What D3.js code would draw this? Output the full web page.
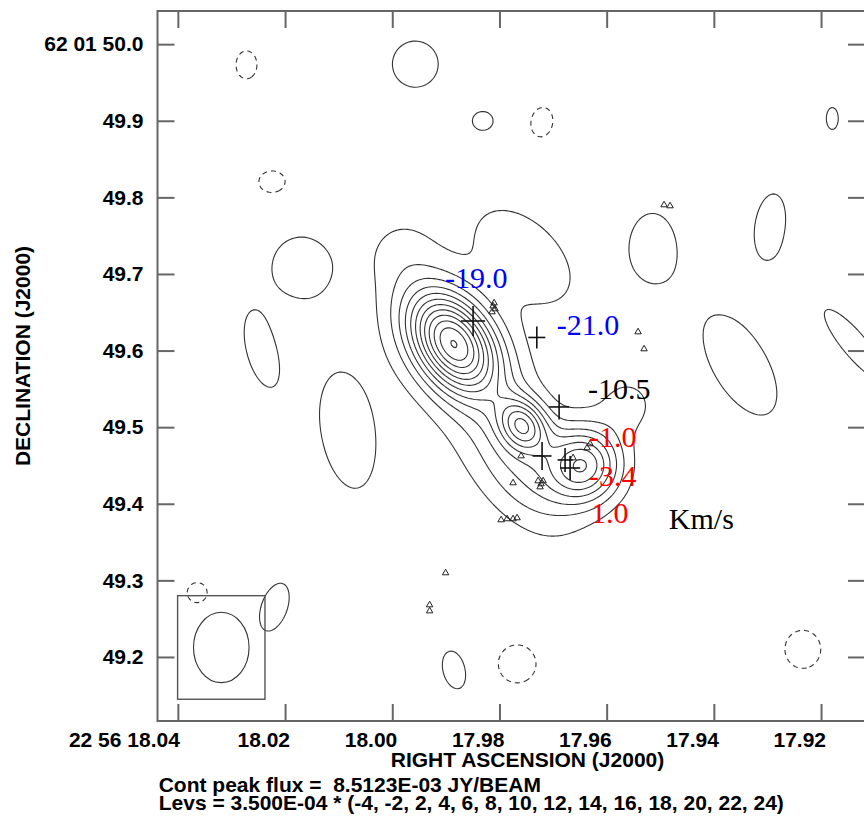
<!DOCTYPE html>
<html><head><meta charset="utf-8">
<script src="https://cdn.jsdelivr.net/npm/d3@7"></script>
<style>body{margin:0;background:#fff}svg{display:block}</style>
</head><body>
<svg id="chart" width="864" height="819"></svg>
<script>
// ---------------- axes ----------------
const raTicks = [18.04, 18.02, 18.00, 17.98, 17.96, 17.94, 17.92];
const raTickLabels = ["22 56 18.04", "18.02", "18.00", "17.98", "17.96", "17.94", "17.92"];
const decTicks = [50.0, 49.9, 49.8, 49.7, 49.6, 49.5, 49.4, 49.3, 49.2];
const decTickLabels = ["62 01 50.0", "49.9", "49.8", "49.7", "49.6", "49.5", "49.4", "49.3", "49.2"];
const raDomain = [18.0438, 17.9118];   // seconds of RA (22h56m)
const decDomain = [50.0433, 49.1164];  // arcsec of Dec (62d01')
const decRefDeg = 62 + 1 / 60 + 50 / 3600;

// ---------------- contour levels ----------------
const levelBase = 3.5e-4;
const levelMultipliers = [-4, -2, 2, 4, 6, 8, 10, 12, 14, 16, 18, 20, 22, 24];
const peakFlux = 8.5123e-3;

// ---------------- continuum map components (Gaussians: Jy/beam, FWHM arcsec, PA deg) ----------------
const compRA   = [17.9886, 17.9756, 17.9644, 17.9830, 17.97615, 17.97522, 17.9560, 17.99853,
                  17.9957, 17.9831, 17.9179, 17.9515, 17.9295, 17.9351, 17.9137, 18.0172, 18.0245, 18.0084, 18.0220, 17.9884,
                  18.0272, 18.0224, 17.9721, 18.0364, 17.9767, 17.9234];
const compDec  = [49.610, 49.503, 49.4507, 49.542, 49.4441, 49.7248, 49.529, 49.7339,
                  49.974, 49.900, 49.903, 49.737, 49.763, 49.581, 49.6073, 49.710, 49.5995, 49.494, 49.265, 49.183,
                  49.973, 49.820, 49.898, 49.284, 49.191, 49.210];
const compPeak = [7.7e-3, 4.2e-3, 4.55e-3, 8.75e-4, 1.4e-3, 1.05e-3, 9.1e-4, 6.3e-4,
                  1.05e-3, 1.05e-3, 1.05e-3, 1.05e-3, 1.05e-3, 1.05e-3, 1.05e-3, 1.05e-3, 1.05e-3, 1.05e-3, 1.05e-3, 1.05e-3,
                  -1.05e-3, -1.05e-3, -1.05e-3, -1.05e-3, -1.05e-3, -1.05e-3];
const compMaj  = [0.123, 0.0615, 0.080, 0.292, 0.1538, 0.1845, 0.0677, 0.0861,
                  0.0785, 0.0342, 0.0376, 0.1059, 0.1093, 0.191, 0.154, 0.0956, 0.1195, 0.1947, 0.0854, 0.0666,
                  0.0478, 0.0468, 0.0512, 0.0342, 0.0649, 0.0649];
const compMin  = [0.080, 0.0492, 0.080, 0.138, 0.0861, 0.1076, 0.0677, 0.0861,
                  0.0785, 0.0307, 0.0205, 0.0717, 0.0512, 0.092, 0.041, 0.0922, 0.0478, 0.0888, 0.0444, 0.0393,
                  0.0359, 0.0386, 0.0376, 0.0342, 0.0649, 0.0615];
const compPA   = [35, 35, 0, 35, 35, 46, 0, 0,
                  0, 90, 0, 0, -8, 31, 40, 0, 15, 10, -20, 15,
                  0, 90, -10, 0, 0, 0];

// ---------------- maser spots (triangles) ----------------
const spotRA  = [17.94929, 17.94817, 17.95414, 17.95302, 17.98119, 17.98082, 17.98138, 17.98100,
                 17.96365, 17.96309, 17.96626, 17.97596, 17.97746, 17.97279, 17.97223, 17.97242, 17.97186,
                 17.97969, 17.97857, 17.97746, 17.97671, 17.99005, 17.99303, 17.99303];
const spotDec = [49.7901, 49.7888, 49.6243, 49.6021, 49.6582, 49.6543, 49.6504, 49.6621,
                 49.4729, 49.4781, 49.4598, 49.4624, 49.4272, 49.4298, 49.4259, 49.4219, 49.4298,
                 49.3789, 49.3802, 49.3802, 49.3815, 49.3097, 49.2679, 49.2600];

// ---------------- positions with errors (crosses) ----------------
const crossRA    = [17.98492, 17.97303, 17.96887, 17.97205, 17.96776, 17.96682];
const crossDec   = [49.6386, 49.6171, 49.5264, 49.4624, 49.4572, 49.4467];
const crossErrRA = [0.00224, 0.00159, 0.00187, 0.00177, 0.00140, 0.00187];
const crossErrDec= [0.0196, 0.0144, 0.0163, 0.0183, 0.0157, 0.0157];

// ---------------- velocity labels (km/s) ----------------
const velText  = ["-19.0", "-21.0", "-10.5", "-1.0", "-3.4", "1.0", "Km/s"];
const velColor = ["#0000ff", "#0000ff", "#000000", "#ff0000", "#ff0000", "#ff0000", "#000000"];
const velRA    = [17.99014, 17.9693, 17.96347, 17.96328, 17.96328, 17.9629, 17.9484];
const velDec   = [49.6817, 49.6204, 49.5368, 49.4742, 49.4232, 49.3749, 49.3671];

// ---------------- beam ----------------
const beamRA = 18.0319, beamDec = 49.2124;
const beamMaj = 0.0919, beamMin = 0.0729, beamPA = 0;
const beamBoxHalfRA = 0.00815, beamBoxHalfDec = 0.0676;

// =====================================================================
const svg = d3.select("#chart");
const L = 157.5, R = 865, T = 11, B = 721;
const x = d3.scaleLinear().domain(raDomain).range([L, R]);
const y = d3.scaleLinear().domain(decDomain).range([T, B]);
const cosDec = Math.cos(decRefDeg * Math.PI / 180);

svg.append("defs").append("clipPath").attr("id", "frameClip")
  .append("rect").attr("x", L).attr("y", T).attr("width", R - L).attr("height", B - T);

// field on a grid
const step = 2, gx0 = L - 8, gy0 = T - 8;
const nx = Math.ceil((R - L + 16) / step) + 1, ny = Math.ceil((B - T + 16) / step) + 1;
const field = new Float64Array(nx * ny);
const comps = compRA.map((ra, k) => ({
  ra, dec: compDec[k], peak: compPeak[k],
  sMaj: compMaj[k] / 2.3548, sMin: compMin[k] / 2.3548,
  s: Math.sin(compPA[k] * Math.PI / 180), c: Math.cos(compPA[k] * Math.PI / 180)
}));
for (let j = 0; j < ny; j++) {
  const dec = y.invert(gy0 + j * step);
  for (let i = 0; i < nx; i++) {
    const ra = x.invert(gx0 + i * step);
    let v = 0;
    for (const cp of comps) {
      const dX = -(ra - cp.ra) * 15 * cosDec;  // arcsec, west positive
      const dY = dec - cp.dec;
      const u = -dX * cp.s + dY * cp.c;
      const w = dX * cp.c + dY * cp.s;
      v += cp.peak * Math.exp(-0.5 * ((u / cp.sMaj) ** 2 + (w / cp.sMin) ** 2));
    }
    field[j * nx + i] = v;
  }
}
const toPix = d3.geoTransform({
  point(px, py) { this.stream.point(gx0 + (px - 0.5) * step, gy0 + (py - 0.5) * step); }
});
const path = d3.geoPath(toPix);

const posLevels = levelMultipliers.filter(m => m > 0).map(m => m * levelBase);
const negLevels = levelMultipliers.filter(m => m < 0).map(m => -m * levelBase);
const cg = svg.append("g").attr("clip-path", "url(#frameClip)");
cg.selectAll("path.pos").data(d3.contours().size([nx, ny]).thresholds(posLevels)(field))
  .join("path").attr("class", "pos").attr("d", path)
  .attr("fill", "none").attr("stroke", "#333").attr("stroke-width", 1.1);
const negField = field.map(v => -v);
cg.selectAll("path.neg").data(d3.contours().size([nx, ny]).thresholds(negLevels)(negField))
  .join("path").attr("class", "neg").attr("d", path)
  .attr("fill", "none").attr("stroke", "#333").attr("stroke-width", 1.1)
  .attr("stroke-dasharray", "5,4");

// beam
const beamRx = Math.abs(x(beamRA + beamMin / 2 / (15 * cosDec)) - x(beamRA));
const beamRy = Math.abs(y(beamDec + beamMaj / 2) - y(beamDec));
svg.append("rect")
  .attr("x", x(beamRA + beamBoxHalfRA)).attr("y", y(beamDec + beamBoxHalfDec))
  .attr("width", x(beamRA - beamBoxHalfRA) - x(beamRA + beamBoxHalfRA))
  .attr("height", y(beamDec - beamBoxHalfDec) - y(beamDec + beamBoxHalfDec))
  .attr("fill", "none").attr("stroke", "#555").attr("stroke-width", 1.4);
svg.append("ellipse").attr("cx", x(beamRA)).attr("cy", y(beamDec))
  .attr("rx", beamRx).attr("ry", beamRy)
  .attr("transform", `rotate(${-beamPA},${x(beamRA)},${y(beamDec)})`)
  .attr("fill", "none").attr("stroke", "#333").attr("stroke-width", 1.1);

// triangles
const tri = d3.symbol().type(d3.symbolTriangle).size(18);
svg.append("g").selectAll("path").data(spotRA)
  .join("path").attr("d", tri)
  .attr("transform", (d, i) => `translate(${x(d)},${y(spotDec[i])})`)
  .attr("fill", "none").attr("stroke", "#222").attr("stroke-width", 1);

// crosses
const cr = svg.append("g").attr("stroke", "#111").attr("stroke-width", 1.6);
crossRA.forEach((ra, i) => {
  cr.append("line").attr("x1", x(ra + crossErrRA[i])).attr("x2", x(ra - crossErrRA[i]))
    .attr("y1", y(crossDec[i])).attr("y2", y(crossDec[i]));
  cr.append("line").attr("x1", x(ra)).attr("x2", x(ra))
    .attr("y1", y(crossDec[i] + crossErrDec[i])).attr("y2", y(crossDec[i] - crossErrDec[i]));
});

// velocity labels
svg.append("g").selectAll("text").data(velText).join("text")
  .attr("x", (d, i) => x(velRA[i])).attr("y", (d, i) => y(velDec[i]))
  .attr("fill", (d, i) => velColor[i])
  .style("font-family", "'Liberation Serif', 'Times New Roman', serif")
  .style("font-size", "30px").text(d => d);

// frame & axes
svg.append("rect").attr("x", L).attr("y", T).attr("width", R - L).attr("height", B - T)
  .attr("fill", "none").attr("stroke", "#666").attr("stroke-width", 2);
const axFont = "'Liberation Sans', Arial, Helvetica, sans-serif";
function styleAxis(g) {
  g.select(".domain").remove();
  g.selectAll(".tick line").attr("stroke", "#666").attr("stroke-width", 2);
  g.selectAll("text").attr("fill", "#000").style("font-family", axFont)
    .style("font-size", "21px").style("font-weight", "bold");
}
svg.append("g").attr("transform", `translate(${L},0)`)
  .call(d3.axisLeft(y).tickValues(decTicks).tickSize(-17).tickPadding(14)
    .tickFormat((d, i) => decTickLabels[i]))
  .call(styleAxis);
svg.append("g").attr("transform", `translate(${R},0)`)
  .call(d3.axisRight(y).tickValues(decTicks).tickSize(-17).tickFormat(""))
  .call(styleAxis);
svg.append("g").attr("transform", `translate(0,${T})`)
  .call(d3.axisTop(x).tickValues(raTicks).tickSize(-17).tickFormat(""))
  .call(styleAxis);
const bx = svg.append("g").attr("transform", `translate(0,${B})`)
  .call(d3.axisBottom(x).tickValues(raTicks).tickSize(-17).tickPadding(11)
    .tickFormat((d, i) => raTickLabels[i]))
  .call(styleAxis);
bx.selectAll("text").attr("text-anchor", "end").attr("dx", (d, i) => i === 0 ? 1.5 : 4.5);

// titles
const title = (t, xx, yy, anchor, rot) => svg.append("text")
  .attr("transform", `translate(${xx},${yy})` + (rot ? ` rotate(${rot})` : ""))
  .attr("text-anchor", anchor).style("font-family", axFont)
  .style("font-size", "21px").style("font-weight", "bold").attr("fill", "#000").text(t);
title("RIGHT ASCENSION (J2000)", 527.5, 767, "middle");
title("DECLINATION (J2000)", 30, 356, "middle", -90);
title("Cont peak flux =  " + peakFlux.toExponential(4).toUpperCase().replace("E-3", "E-03") + " JY/BEAM", 158.7, 791.5, "start")
  .style("white-space", "pre");
title("Levs = " + levelBase.toExponential(3).toUpperCase().replace("E-4", "E-04") + " * (" + levelMultipliers.join(", ") + ")", 158.7, 810, "start");
</script>
</body></html>
